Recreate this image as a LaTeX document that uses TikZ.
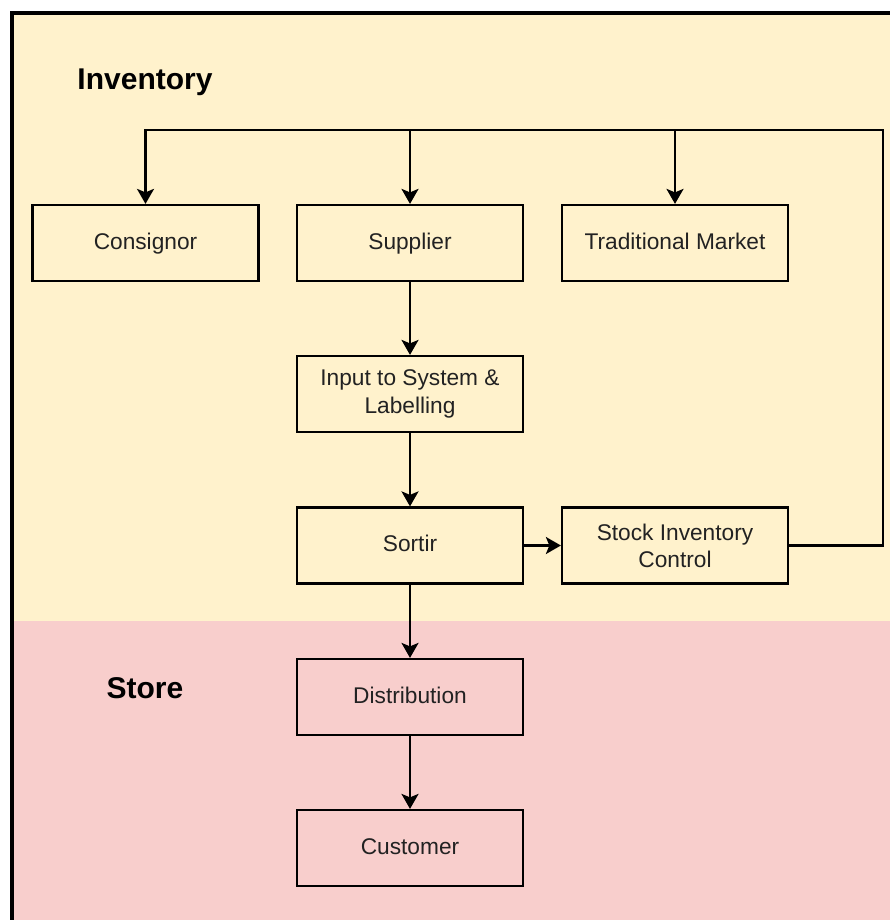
\documentclass[tikz,border=0pt]{standalone}
\usepackage{fontspec}
\setmainfont{Liberation Sans}
\usetikzlibrary{arrows.meta}
\definecolor{invfill}{HTML}{FFF2CC}
\definecolor{storefill}{HTML}{F8CECC}
\definecolor{boxtext}{HTML}{222222}
\begin{document}
\begin{tikzpicture}[x=1pt,y=-1pt,
  stepbox/.style={draw=black, line width=2.2pt, minimum width=226pt, minimum height=76pt,
    inner sep=0pt, align=center, text=boxtext,
    font=\fontsize{22.7}{27.2}\selectfont},
  onebox/.style={stepbox, text height=16.5pt, text depth=4.2pt},
  lanelabel/.style={font=\bfseries\fontsize{30}{36}\selectfont, text=black},
  flow/.style={draw=black, line width=2.4pt,
    -{Stealth[length=15pt, width=17pt, inset=3.5pt]}}]
\useasboundingbox (0,0) rectangle (890,920);
\clip (0,0) rectangle (890,920);

% swimlane backgrounds and outer frame
\fill[white] (0,0) rectangle (890,920);
\fill[invfill] (12,13) rectangle (900,621);
\fill[storefill] (12,621) rectangle (900,930);
\draw[black, line width=3.2pt] (12,940) -- (12,13) -- (900,13);

% lane titles
\node[lanelabel] (invlabel) at (145,82) {Inventory};
\node[lanelabel] (storelabel) at (145,688) {Store};

% process boxes
\node[onebox] (consignor) at (145.5,243) {Consignor};
\node[onebox] (supplier) at (410,243) {Supplier};
\node[onebox] (market) at (675,243) {Traditional Market};
\node[stepbox] (input) at (410,394) {Input to System \&\\Labelling};
\node[onebox] (sortir) at (410,545.5) {Sortir};
\node[stepbox] (stock) at (675,545.5) {Stock Inventory\\Control};
\node[onebox] (distribution) at (410,697) {Distribution};
\node[onebox] (customer) at (410,848) {Customer};

% feedback loop from stock control back to the sources
\coordinate (loopR) at (883,130);
\draw[flow] (stock.east) -| (loopR) -| (consignor.north);
\draw[flow] (supplier.north |- loopR) -- (supplier.north);
\draw[flow] (market.north |- loopR) -- (market.north);

% main flow
\draw[flow] (supplier) -- (input);
\draw[flow] (input) -- (sortir);
\draw[flow] (sortir) -- (stock);
\draw[flow] (sortir) -- (distribution);
\draw[flow] (distribution) -- (customer);
\end{tikzpicture}
\end{document}
